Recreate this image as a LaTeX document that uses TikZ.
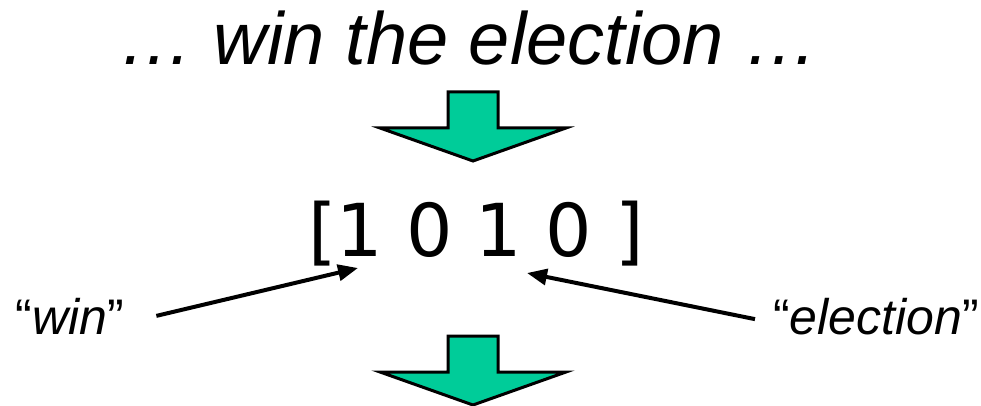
\documentclass[tikz,border=0pt]{standalone}
\usepackage{fontspec}
\setmainfont{Liberation Sans}
\newfontfamily\vecfont{DejaVu Sans}
\usetikzlibrary{arrows.meta,calc,positioning}
\definecolor{arrowteal}{RGB}{0,204,153}

\tikzset{
  blockarrow/.style={draw=black, line width=3pt, fill=arrowteal, line join=miter},
  pointer/.style={line width=4pt, -{Triangle[length=20pt,width=16pt]}},
  wordlabel/.style={anchor=base, inner sep=0pt, font=\fontsize{50}{60}\selectfont}
}

\begin{document}
\begin{tikzpicture}[x=1pt, y=-1pt]
  \useasboundingbox (0,0) rectangle (981,406);

  % Sentence
  \node[anchor=base, inner sep=0pt, font=\fontsize{74}{88}\selectfont\itshape]
    (sentence) at (469,65) {\dots\ win the election \dots};

  % Block arrows
  \foreach \y in {92,336} {
    \draw[blockarrow] (448,\y) -- (498,\y) -- (498,\y+36) -- (566,\y+36)
      -- (473,\y+69) -- (380,\y+36) -- (448,\y+36) -- cycle;
  }

  % Feature vector
  \node[anchor=base, inner sep=0pt, font=\fontsize{73}{88}\vecfont]
    (vector) at (476,256) {[1 0 1 0 ]};
  \coordinate (winTip) at (358,268);
  \coordinate (electionTip) at (527,273);

  % Word labels
  \node[wordlabel] (win) at (70,334) {``\textit{win}''};
  \node[wordlabel] (election) at (876,334) {``\textit{election}''};

  \draw[pointer] ($(win.east)+(32,0)$) -- (winTip);
  \draw[pointer] ($(election.west)+(-18,3)$) -- (electionTip);
\end{tikzpicture}
\end{document}
